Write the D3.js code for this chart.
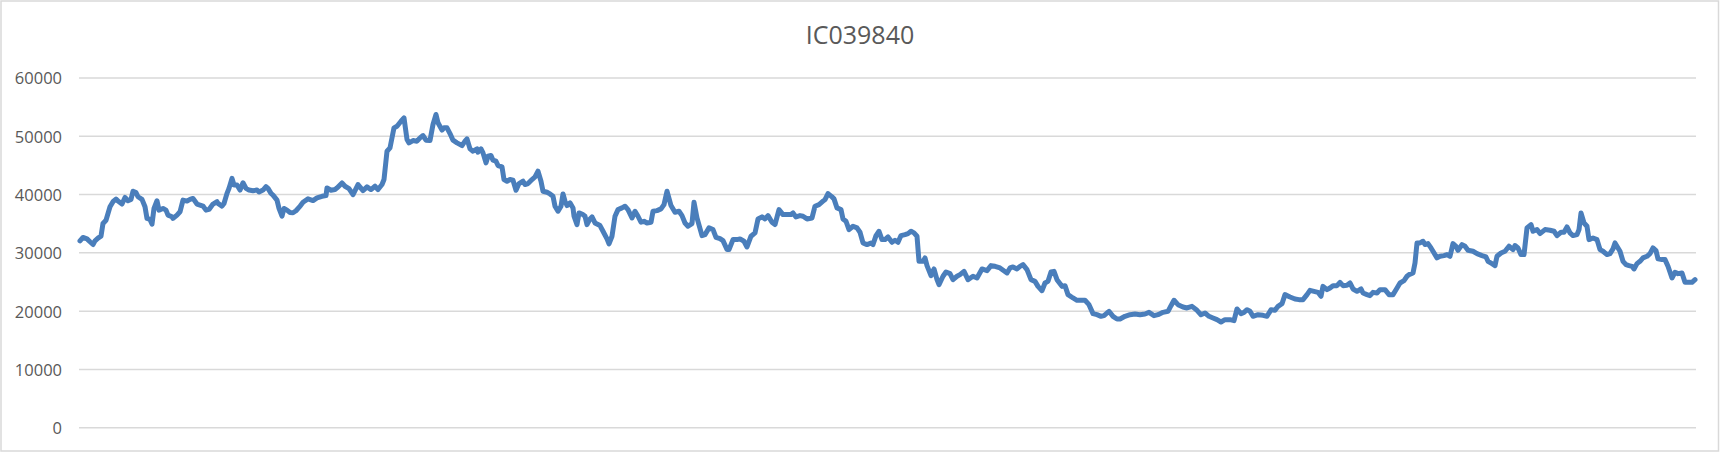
<!DOCTYPE html>
<html><head><meta charset="utf-8">
<script src="https://cdn.jsdelivr.net/npm/d3@7"></script>
<style>
html,body{margin:0;padding:0;background:#fff;}
svg{display:block;}
</style></head>
<body>
<svg id="chart" width="1720" height="452"></svg>
<script>
const title = "IC039840";
const yTicks = [0, 10000, 20000, 30000, 40000, 50000, 60000];
// observation index (position along the series) and value
const positions = [0,3,7,10,13,15,18,21,23,26,30,33,36,38,42,45,48,51,53,56,58,62,65,67,70,72,74,77,79,83,86,88,92,93,97,100,103,107,110,113,117,120,123,126,129,133,137,138,142,144,147,149,152,154,157,160,163,166,169,173,177,179,183,186,188,191,193,197,199,202,204,207,210,213,216,219,
220,223,228,233,237,242,246,247,251,255,257,262,265,269,273,278,283,287,291,295,298,
302,304,307,310,314,317,321,324,327,329,333,337,340,343,346,350,353,356,358,362,364,367,370,373,377,382,385,387,390,393,397,398,401,403,406,408,411,413,416,418,422,424,427,430,433,436,439,443,445,448,452,455,458,461,463,467,470,473,475,478,481,483,485,487,490,493,494,497,499,503,505,507,510,512,515,520,523,527,529,532,535,538,542,545,548,552,555,558,561,564,567,571,573,577,581,584,587,
591,595,599,602,605,608,612,614,617,622,625,629,633,636,640,643,647,649,653,657,660,664,667,671,675,678,682,685,688,692,695,699,703,707,711,713,716,720,723,727,732,735,739,743,745,748,752,754,757,761,763,766,769,773,777,780,783,787,791,793,796,799,802,805,808,812,815,818,821,825,828,831,834,837,839,843,845,847,851,854,857,859,863,866,870,873,877,880,
884,888,893,897,902,907,911,915,920,927,930,933,937,940,943,947,951,955,958,962,965,968,971,974,977,982,985,988,993,997,1001,1005,1009,1013,1017,1021,1024,1027,1029,1033,1037,1040,1045,1050,1055,1060,1065,1069,1074,1078,1083,1088,1091,1094,1098,1103,1107,1112,1117,1121,1125,1129,1133,1137,1141,1145,1150,1154,1157,1161,1164,1167,1170,
1173,1178,1183,1187,1191,1195,1198,1202,1205,1210,1215,1219,1223,1227,1230,1234,1238,1241,1243,1247,1250,1253,1257,1260,1263,1267,1270,1273,1277,1281,1283,1287,1290,1293,1297,1300,1305,1309,1313,1316,1320,1324,1327,1329,1333,1335,1337,1340,1343,1345,1348,1351,1353,1357,1360,1364,1367,1370,1373,1376,1378,1382,1385,1388,1393,1397,1402,1406,1408,1412,1415,1417,1421,1425,1429,1433,1435,1438,1441,1444,1447,1451,1453,1457,1460,
1465,1470,1474,1477,1481,1484,1487,1490,1493,1497,1499,1501,1504,1507,1509,1513,1517,1520,1523,1527,1530,1533,1535,1538,1540,1543,1546,1549,1552,1554,1557,1560,1563,1567,1570,1573,1576,1578,1582,1585,1588,1592,1595,1598,1602,1605,1608,1612,1615];
const values = [32060,32640,32400,31900,31430,32060,32520,32870,35040,35600,37900,38770,39230,38880,38370,39510,38940,39170,40570,40340,39630,39170,37910,35900,35730,34930,37620,38940,37330,37620,37330,36480,36190,35900,36480,37050,39050,38880,39170,39340,38370,38200,38020,37330,37450,38370,38770,38480,38020,38480,40200,41060,42780,41630,41630,40770,42030,41060,40770,40660,40770,40430,40770,41350,41060,40200,39910,39050,37620,36300,37620,37330,36930,36880,37220,37790,
38000,38680,39260,38970,39430,39710,39830,41140,40740,40860,41140,42000,41430,41030,40000,41720,40690,41320,40860,41430,40860,
41720,42580,47440,48010,51450,51730,52590,53170,49450,48870,49270,49160,49730,50130,49330,49270,52020,53740,52310,51050,51450,51450,50470,49330,48870,48410,49160,49560,47840,47440,47840,47270,47840,47150,45440,46580,46700,45900,45720,44980,44750,42580,42290,42580,42460,40740,41890,42290,41720,41890,42580,43030,44010,42290,40570,40400,40110,39710,38000,37140,38000,40110,38860,38110,38570,37710,36280,34850,36850,36570,36280,34850,35820,36170,35130,34680,33700,32390,31530,32850,36280,37420,37710,38000,37420,35990,37140,36280,35250,35420,35130,35250,37140,37250,37540,38280,40570,
38110,36970,37140,36390,35130,34560,35020,38680,35990,32960,33130,34280,33990,32670,32440,32100,30560,30560,32270,32270,32390,31990,31010,32850,33420,35820,36170,35820,36390,35250,34850,37420,36570,36570,36570,36850,36170,36390,36280,35820,35990,38000,38280,38860,39140,40170,39600,39260,37710,37420,35820,35420,33990,34560,34280,33530,31700,31420,31700,31420,32960,33700,32270,32270,32730,31810,32160,31810,32960,33130,33300,33700,33420,32850,28550,28550,29130,27810,26090,27240,25400,24550,25980,26720,26430,25400,25980,26260,
26830,25400,25980,25690,27240,26950,27810,27690,27410,26550,27410,27580,27240,27690,27980,27120,25400,25110,24250,23510,24830,25110,26720,26830,25400,24250,24370,22830,22260,21860,21860,21860,21110,19570,19390,19110,19220,19680,19970,19110,18650,18650,19110,19390,19510,19390,19510,19790,19220,19390,19790,19970,20940,21860,21110,20710,20540,20820,20140,19390,19680,19110,18820,18540,18140,18540,18540,18370,20370,19570,19790,20250,19970,
19110,19390,19280,19110,20250,20140,20820,21280,22830,22430,22080,21970,21970,22830,23570,23400,23220,22540,24250,23680,23970,24370,24370,24940,24370,24430,24830,23800,23400,23800,23110,22830,22660,23220,23110,23680,23680,22830,22830,23680,24830,25230,25980,26260,26550,28260,31700,31700,31990,31420,31590,30840,30270,29130,29410,29530,29700,29410,31590,31130,30440,31420,31130,30440,30270,29870,29530,29300,28550,28150,27810,29410,29980,30270,31130,30560,31250,30840,29700,29700,34280,34850,33700,33990,33300,
33990,33880,33700,32960,33530,33530,34450,33420,32960,33130,33990,36850,35130,34560,32270,32560,32270,30560,30270,29700,29870,30680,31700,30840,30270,28550,27980,27810,27690,27240,28150,28550,29130,29410,29870,30840,30390,28960,28840,28840,27690,25690,26660,26430,26550,24940,24940,24940,25400];

const data = positions.map((p, i) => ({p, v: values[i]}));

const W = 1720, H = 452;
const svg = d3.select("#chart");
const font = "'Open Sans', 'Liberation Sans', sans-serif";

// chart border
svg.append("rect").attr("x", 1).attr("y", 1).attr("width", W - 2.5).attr("height", H - 2)
  .attr("fill", "#fff").attr("stroke", "#d9d9d9").attr("stroke-width", 1.5);

const x = d3.scaleLinear().domain(d3.extent(positions)).range([80, 1695]);
const y = d3.scaleLinear().domain([0, 60000]).range([427.7, 78]);

// gridlines
svg.append("g").selectAll("line").data(yTicks).join("line")
  .attr("x1", 79).attr("x2", 1696)
  .attr("y1", d => y(d)).attr("y2", d => y(d))
  .attr("stroke", "#d9d9d9").attr("stroke-width", 1.5);

// y axis labels
const yAxis = d3.axisLeft(y).tickValues(yTicks).tickSize(0).tickPadding(0).tickFormat(d3.format("d"));
const ga = svg.append("g").attr("transform", "translate(62,0)").call(yAxis);
ga.select(".domain").remove();
ga.selectAll("text").attr("font-family", font).attr("font-size", 16.5).attr("fill", "#595959").attr("dy", "0.36em");

// title
svg.append("text").attr("x", 860).attr("y", 43.5).attr("text-anchor", "middle")
  .attr("font-family", font).attr("font-size", 25).attr("fill", "#595959").text(title);

// line
const line = d3.line().x(d => x(d.p)).y(d => y(d.v));
svg.append("path").datum(data).attr("d", line)
  .attr("fill", "none").attr("stroke", "#4a7ebb").attr("stroke-width", 5)
  .attr("stroke-linejoin", "round").attr("stroke-linecap", "round");
</script>
</body></html>
